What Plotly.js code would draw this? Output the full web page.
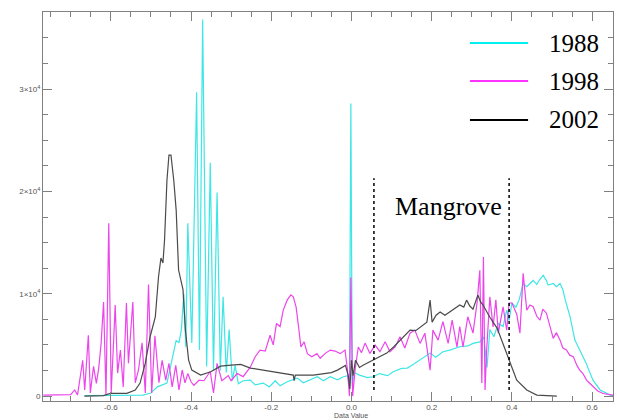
<!DOCTYPE html>
<html>
<head>
<meta charset="utf-8">
<script src="https://cdn.plot.ly/plotly-3.0.1.min.js"></script>
<style>html,body{margin:0;padding:0;background:#fff;}#chart{width:617px;height:420px;}</style>
</head>
<body>
<div id="chart"></div>
<script>
// ---- Data ----
const seriesNames = ["1988", "1998", "2002"];

// 1988 (cyan)
const x1988 = [-0.665,-0.60,-0.55,-0.52,-0.500,-0.484,-0.460,-0.445,-0.437,-0.430,-0.424,-0.418,-0.413,-0.408,-0.398,-0.386,-0.379,-0.371,-0.361,-0.352,-0.344,-0.335,-0.327,-0.320,-0.312,-0.305,-0.297,-0.290,-0.282,-0.270,-0.252,-0.240,-0.220,-0.205,-0.190,-0.178,-0.160,-0.135,-0.120,-0.085,-0.070,-0.053,-0.035,-0.020,-0.010,-0.005,-0.0015,0.002,0.007,0.020,0.040,0.054,0.070,0.090,0.104,0.125,0.139,0.150,0.171,0.196,0.210,0.228,0.245,0.270,0.290,0.303,0.320,0.330,0.338,0.345,0.355,0.366,0.378,0.387,0.393,0.400,0.410,0.418,0.428,0.437,0.445,0.453,0.462,0.466,0.478,0.486,0.490,0.503,0.511,0.520,0.527,0.533,0.545,0.557,0.569,0.585,0.602,0.620,0.645,0.652];
const y1988 = [50,50,100,100,300,900,1270,4200,5450,5200,6500,10000,4800,16900,5200,29700,4500,36800,2900,22800,2500,19900,2500,9700,2300,6500,1500,3000,1200,1500,1560,1100,1270,900,1500,1000,1400,1760,1300,1890,1500,1890,1600,1890,2000,1000,28600,1000,2300,2050,1800,1890,2200,2000,2380,2700,2740,3000,3520,4200,3800,4330,4500,4820,4900,5150,5300,5800,2800,6500,5800,7100,6800,8400,7400,9100,8700,9400,11000,10700,11000,11300,10900,11200,11800,11300,10850,11000,10700,11000,10400,9400,7750,5470,4500,3220,1560,600,100,50];

// 1998 (magenta)
const x1998 = [-0.768,-0.720,-0.700,-0.690,-0.683,-0.670,-0.665,-0.656,-0.651,-0.643,-0.636,-0.630,-0.624,-0.618,-0.612,-0.605,-0.599,-0.594,-0.589,-0.583,-0.576,-0.569,-0.561,-0.556,-0.545,-0.539,-0.531,-0.522,-0.514,-0.506,-0.498,-0.490,-0.480,-0.472,-0.463,-0.455,-0.447,-0.438,-0.430,-0.422,-0.415,-0.408,-0.400,-0.393,-0.380,-0.368,-0.352,-0.344,-0.335,-0.323,-0.307,-0.300,-0.285,-0.270,-0.252,-0.240,-0.228,-0.215,-0.203,-0.195,-0.187,-0.178,-0.170,-0.160,-0.151,-0.145,-0.138,-0.132,-0.126,-0.118,-0.110,-0.099,-0.086,-0.078,-0.066,-0.053,-0.041,-0.028,-0.016,-0.010,-0.005,-0.0015,0.003,0.009,0.017,0.025,0.034,0.046,0.059,0.071,0.084,0.096,0.109,0.121,0.133,0.146,0.158,0.171,0.183,0.196,0.203,0.216,0.228,0.241,0.251,0.263,0.270,0.278,0.290,0.303,0.313,0.320,0.325,0.329,0.333,0.337,0.345,0.353,0.360,0.366,0.378,0.387,0.393,0.400,0.412,0.420,0.428,0.437,0.445,0.453,0.462,0.470,0.477,0.486,0.495,0.503,0.511,0.520,0.527,0.536,0.544,0.553,0.562,0.569,0.577,0.586,0.594,0.603,0.614,0.627,0.652];
const y1998 = [100,100,150,600,100,3500,600,5950,300,2900,1250,2750,5200,9200,100,16900,300,4500,8900,2250,4500,900,9100,3200,9200,1300,2550,5200,300,10900,300,5900,1300,3500,1550,3200,900,3000,600,2550,1300,2200,1400,1050,1550,1500,2400,300,3200,1500,2000,1500,2200,1900,2850,3850,4500,4400,5950,5000,7100,6800,8400,9400,9900,9700,8700,6800,4800,5300,4150,3850,4150,3700,4150,4500,4400,4150,4500,2550,0,11600,0,2550,4800,4250,5180,4170,4980,4340,5310,4340,4800,5800,4700,6150,6450,5150,6150,2540,6450,5470,7270,5150,7430,4800,6800,4800,7750,6150,9090,12300,1270,13600,600,4500,9700,6770,9400,6150,8730,6450,9100,9100,8000,6150,12000,8400,8900,8730,7800,7430,8500,8100,6770,5640,6200,5470,4700,4500,4000,3860,3000,2540,2200,1560,1250,900,500,250,100];

// 2002 (black)
const x2002 = [-0.666,-0.618,-0.601,-0.560,-0.539,-0.527,-0.514,-0.502,-0.489,-0.481,-0.475,-0.470,-0.466,-0.460,-0.455,-0.450,-0.443,-0.437,-0.431,-0.423,-0.420,-0.414,-0.406,-0.398,-0.376,-0.351,-0.326,-0.300,-0.276,-0.252,-0.220,-0.190,-0.160,-0.145,-0.143,-0.140,-0.095,-0.050,-0.035,-0.015,-0.008,-0.004,0.000,0.004,0.010,0.020,0.030,0.054,0.070,0.088,0.105,0.121,0.133,0.146,0.160,0.171,0.188,0.196,0.201,0.211,0.221,0.233,0.245,0.258,0.270,0.280,0.287,0.295,0.303,0.315,0.322,0.328,0.345,0.363,0.377,0.395,0.412,0.437,0.462,0.512];
const y2002 = [0,50,260,260,590,1270,3220,5800,7750,11660,13490,13000,15250,21100,23560,23560,21100,18180,12320,10680,10400,6450,3520,2540,2050,2380,2930,3030,3100,2740,2540,2300,2100,2050,1500,2050,2050,2300,2540,3000,2000,700,3500,2000,3500,2800,3030,3520,3900,4200,4800,5470,5900,6450,6400,6750,7230,9380,7230,7900,8210,7900,8210,8600,8900,8700,9380,8800,8500,9870,9200,8900,7700,6650,5180,3220,1560,590,100,0];

// annotation / marker values
const mangroveBounds = [0.056, 0.393];
const mangroveLabel = "Mangrove";
const xTitle = "Data Value";
const xTickVals = [-0.6,-0.4,-0.2,0.0,0.2,0.4,0.6];
const xTickText = ["-0.6","-0.4","-0.2","0.0","0.2","0.4","0.6"];
const yTickVals = [0,10000,20000,30000];
const yTickText = ["0","1×10<sup>4</sup>","2×10<sup>4</sup>","3×10<sup>4</sup>"];

// ---- Styling ----
const lineColors = ["#3ee6e6", "#ec45ec", "#4a4a4a"];
const legendColors = ["#00f0f0", "#ff33ff", "#000000"];

const traces = [
  {x: x1988, y: y1988, name: seriesNames[0], type: "scatter", mode: "lines", line: {color: lineColors[0], width: 1.2}},
  {x: x1998, y: y1998, name: seriesNames[1], type: "scatter", mode: "lines", line: {color: lineColors[1], width: 1.2}},
  {x: x2002, y: y2002, name: seriesNames[2], type: "scatter", mode: "lines", line: {color: lineColors[2], width: 1.2}}
];

const smallFont = {family: "Liberation Sans, Arial, sans-serif", size: 8, color: "#555"};
const axisCommon = {
  showgrid: false, zeroline: false, showline: true, linecolor: "#808080", linewidth: 1,
  mirror: "ticks", ticks: "inside", ticklen: 9, tickcolor: "#808080", tickwidth: 1,
  tickfont: smallFont, automargin: false, fixedrange: true
};

const shapes = [];
mangroveBounds.forEach(b => {
  shapes.push({type: "line", xref: "x", yref: "y", x0: b, x1: b, y0: 600, y1: 21300,
    line: {color: "#000", width: 1.5, dash: "dot"}});
});
// custom legend lines (plot area spans y 12..401 px)
const legY = [0.9203, 0.8226, 0.7224];
const annotations = [];
seriesNames.forEach((n, i) => {
  shapes.push({type: "line", xref: "paper", yref: "paper", x0: 0.749, x1: 0.851, y0: legY[i], y1: legY[i],
    line: {color: legendColors[i], width: 2}});
  annotations.push({xref: "paper", yref: "paper", x: 0.884, y: legY[i], text: n, showarrow: false,
    xanchor: "left", yanchor: "middle", font: {family: "Liberation Serif, Times New Roman, serif", size: 25, color: "#000"}});
});
annotations.push({xref: "x", yref: "y", x: 0.241, y: 18500, text: mangroveLabel, showarrow: false,
  xanchor: "center", yanchor: "middle", font: {family: "Liberation Serif, Times New Roman, serif", size: 26, color: "#000"}});
annotations.push({xref: "x", yref: "paper", x: 0.0, y: 0, yshift: -19, text: xTitle, showarrow: false,
  xanchor: "center", yanchor: "bottom", borderpad: 0, font: {family: "Liberation Sans, Arial, sans-serif", size: 7, color: "#555"}});

const layout = {
  width: 617, height: 420,
  margin: {l: 43, r: 4, t: 12, b: 19},
  paper_bgcolor: "#fff", plot_bgcolor: "#fff",
  showlegend: false,
  xaxis: Object.assign({}, axisCommon, {
    range: [-0.769, 0.652], tickvals: xTickVals, ticktext: xTickText, ticklabelstandoff: -2,
    minor: {dtick: 0.05, tick0: 0, ticks: "inside", ticklen: 5, tickcolor: "#808080"}
  }),
  yaxis: Object.assign({}, axisCommon, {
    range: [-480, 37540], tickvals: yTickVals, ticktext: yTickText,
    minor: {dtick: 2500, tick0: 0, ticks: "inside", ticklen: 5, tickcolor: "#808080"}
  }),
  shapes: shapes,
  annotations: annotations
};

Plotly.newPlot("chart", traces, layout, {displayModeBar: false, staticPlot: true});
</script>
</body>
</html>
